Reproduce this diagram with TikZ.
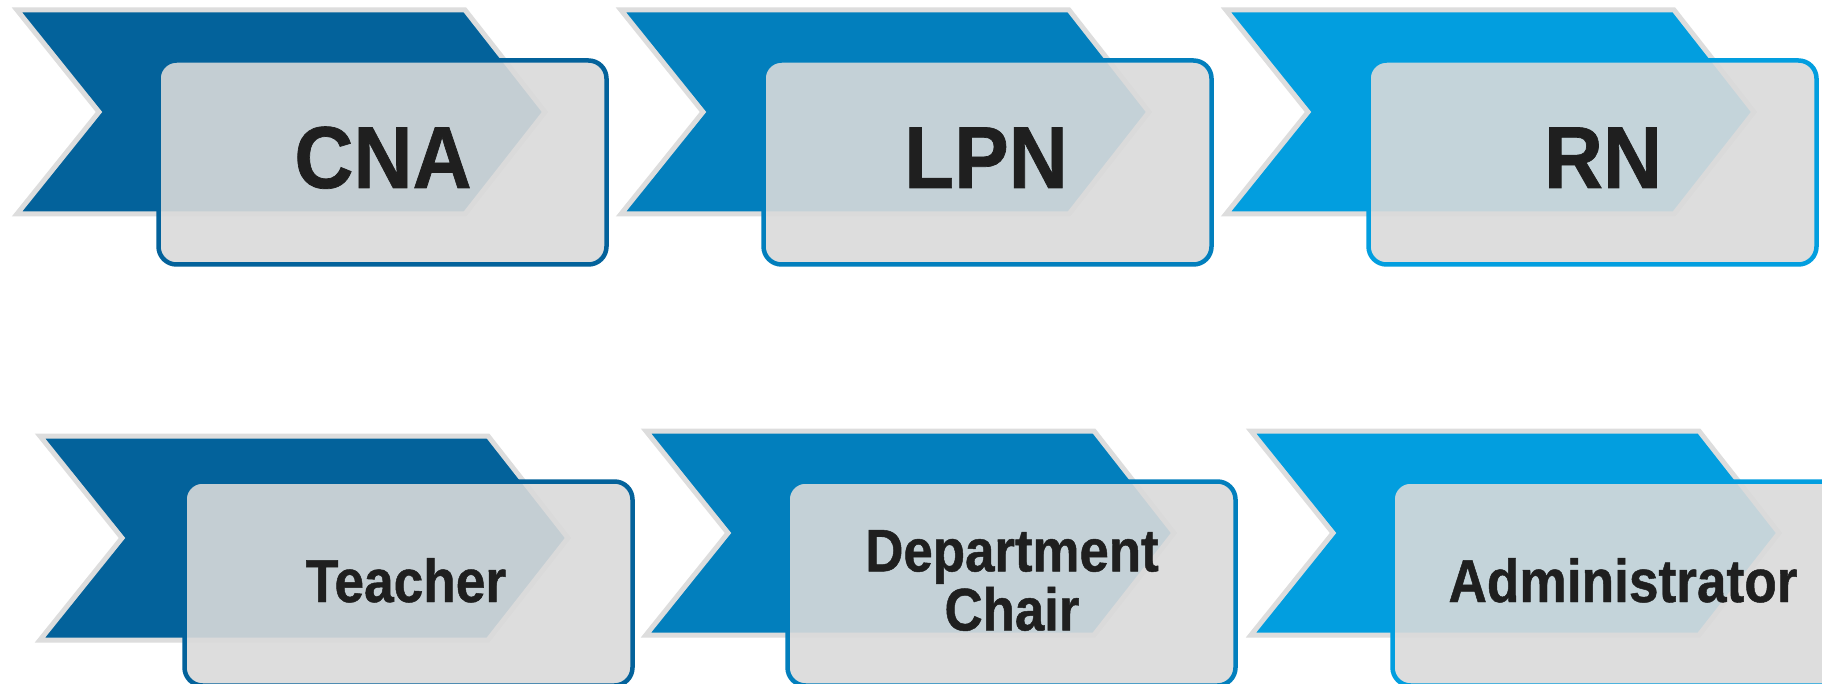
\documentclass[tikz,border=0pt]{standalone}
\usepackage{fontspec}
\newfontfamily\lab{Liberation Sans}[FakeStretch=0.88, FakeBold=0.8]
\newfontfamily\labwide{Liberation Sans}[FakeStretch=0.93, FakeBold=0.8]
\definecolor{cA}{HTML}{03629B}
\definecolor{cB}{HTML}{027FBD}
\definecolor{cC}{HTML}{029EDF}
\definecolor{outl}{HTML}{DDDDDD}
\definecolor{boxfill}{HTML}{DADADA}
\definecolor{txt}{HTML}{1F1F1F}
\tikzset{
  chevstyle/.style={draw=outl, line width=5pt, line join=miter},
  cardstyle/.style={fill=boxfill, fill opacity=0.9, line width=4.5pt, rounded corners=18pt},
  bigtxt/.style={inner sep=0pt, text=txt, font=\labwide\bfseries\fontsize{88}{90}\selectfont},
  smalltxt/.style={inner sep=0pt, text=txt, font=\lab\bfseries\fontsize{60.5}{62}\selectfont},
  twotxt/.style={inner sep=0pt, text=txt, align=center, font=\lab\bfseries\fontsize{60}{59}\selectfont}
}
\newcommand\chev[4]{%
  \path[chevstyle, fill=#4, shift={(#2,#3)}] (0,0) coordinate (#1) -- (448,0) -- (528,102) -- (448,204) -- (0,204) -- (82,102) -- cycle;}
\newcommand\card[4]{%
  \path[cardstyle, draw=#4] (#2,#3) coordinate (#1) rectangle ++(448,204);}
\begin{document}
\begin{tikzpicture}[x=1pt,y=-1pt]
\clip (0,0) rectangle (1822,684);
\fill[white] (0,0) rectangle (1822,684);
% chevrons
\chev{chA}{17}{10}{cA}
\chev{chB}{621}{10}{cB}
\chev{chC}{1226}{10}{cC}
\chev{chD}{40}{436}{cA}
\chev{chE}{646}{431}{cB}
\chev{chF}{1251}{431}{cC}
% cards
\card{bxA}{158.5}{60.5}{cA}
\card{bxB}{763.5}{60.5}{cB}
\card{bxC}{1368.5}{60.5}{cC}
\card{bxD}{184.5}{481.5}{cA}
\card{bxE}{787.5}{481.5}{cB}
\card{bxF}{1392.5}{481.5}{cC}
% labels
\node[bigtxt, anchor=base] (tA) at (383,188) {CNA};
\node[bigtxt, anchor=base] (tB) at (986,188) {LPN};
\node[bigtxt, anchor=base] (tC) at (1603,188) {RN};
\node[smalltxt, anchor=base] (tD) at (406,602) {Teacher};
\node[twotxt, anchor=center] (tE) at (1012,580.5) {Department\\Chair};
\node[smalltxt, anchor=base] (tF) at (1623,602) {Administrator};
\end{tikzpicture}
\end{document}
